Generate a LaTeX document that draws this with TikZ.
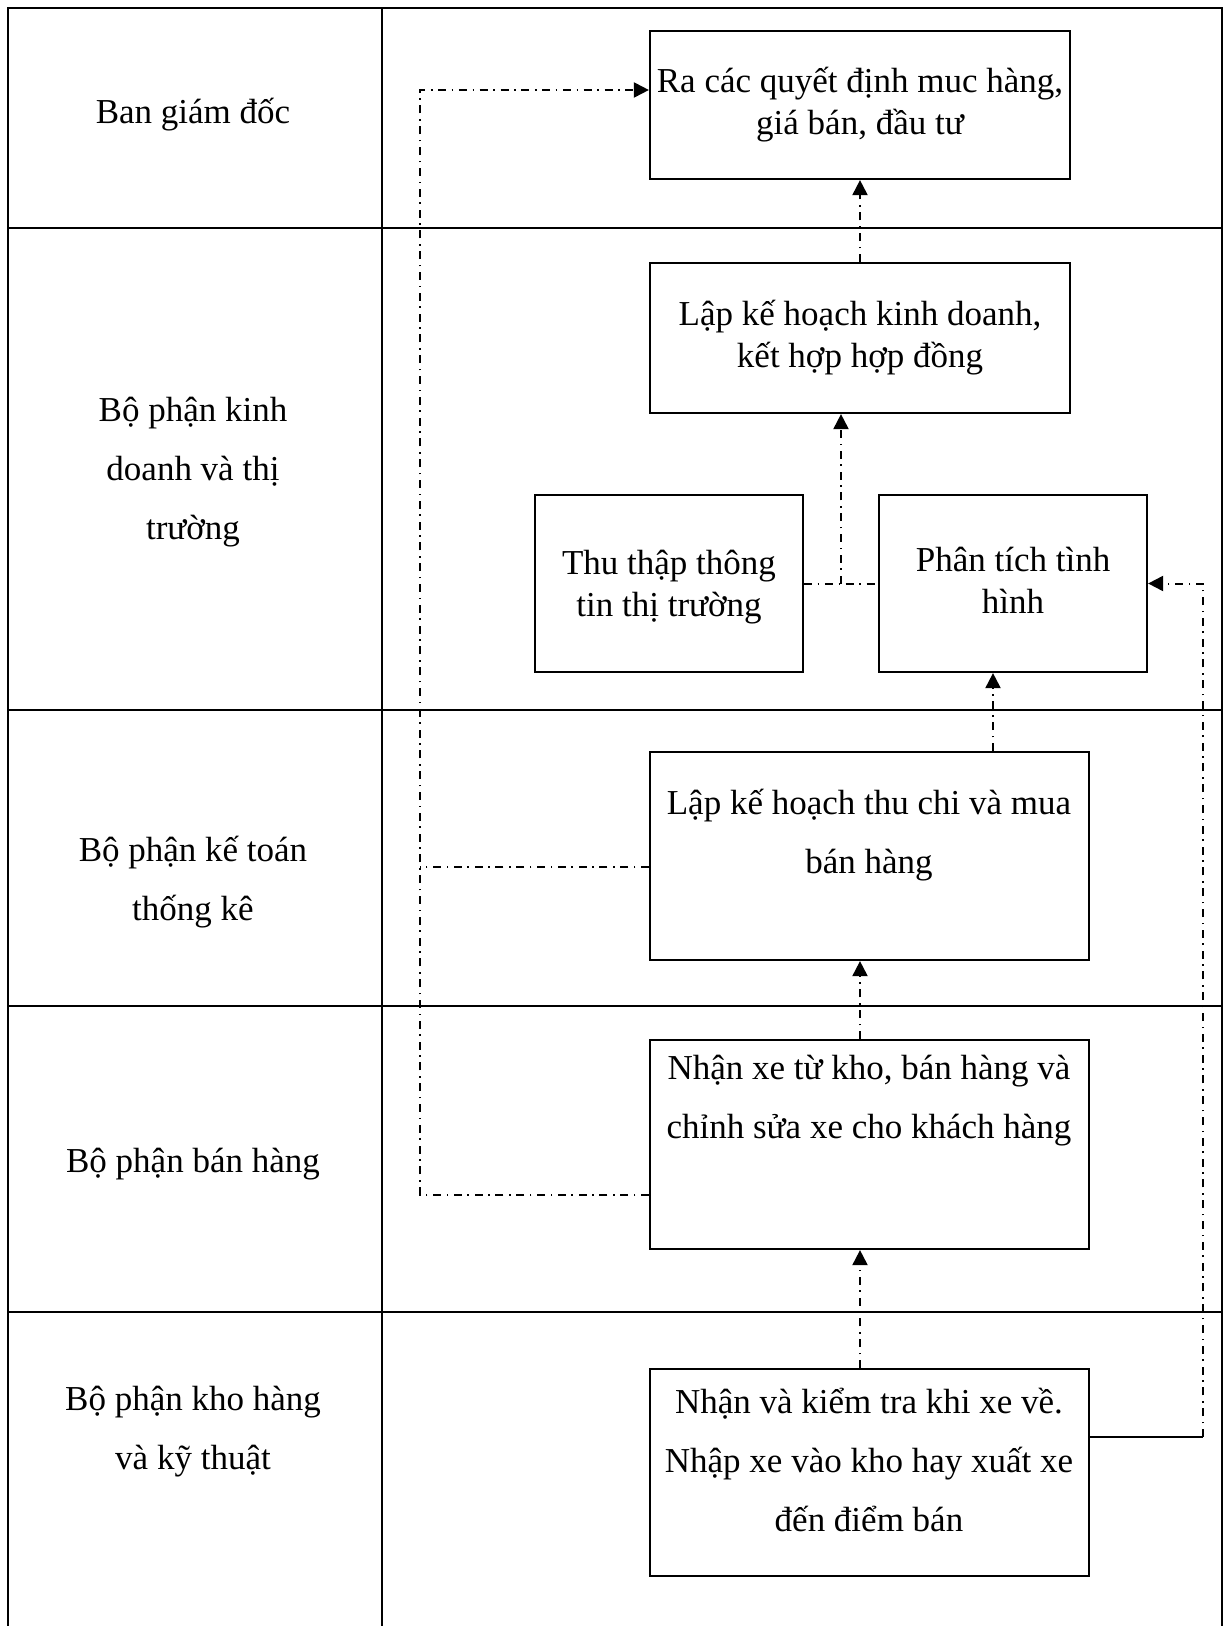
\documentclass[tikz,border=0pt]{standalone}
\usepackage{fontspec}
\setmainfont{Liberation Serif}
\usetikzlibrary{arrows.meta,calc}
\begin{document}
\begin{tikzpicture}[x=0.5pt,y=-0.5pt,
  rule/.style={line width=1pt},
  box/.style={draw,line width=1.1pt,rectangle,inner sep=0pt},
  lbl/.style={align=center,inner sep=0pt,font=\fontsize{17.5}{29.5}\selectfont},
  tight/.style={align=center,inner sep=0pt,font=\fontsize{17.5}{21}\selectfont},
  flow/.style={line width=1pt,dash pattern=on 4pt off 2.8pt on 0.8pt off 2.8pt},
  tip/.style={-{Triangle[length=7.5pt,width=7.5pt]}}]
\useasboundingbox (0,0) rectangle (1230,1626);

% lane grid
\draw[rule] (8,1626) -- (8,8) -- (1222,8) -- (1222,1626);
\draw[rule] (382,8) -- (382,1626);
\foreach \yy in {228,710,1006,1312} \draw[rule] (8,\yy) -- (1222,\yy);

% lane titles
\node[lbl] (r1) at (193,115) {Ban giám đốc};
\node[lbl] (r2) at (193,472) {Bộ phận kinh\\doanh và thị\\trường};
\node[lbl] (r3) at (193,882) {Bộ phận kế toán\\thống kê};
\node[lbl] (r4) at (193,1164) {Bộ phận bán hàng};
\node[lbl] (r5) at (193,1432) {Bộ phận kho hàng\\và kỹ thuật};

% process boxes
\node[box,minimum width=210pt,minimum height=74pt] (b1) at (860,105) {};
\node[box,minimum width=210pt,minimum height=75pt] (b2) at (860,338) {};
\node[box,minimum width=134pt,minimum height=88.5pt] (b3) at (669,583.5) {};
\node[box,minimum width=134pt,minimum height=88.5pt] (b4) at (1013,583.5) {};
\node[box,minimum width=219.5pt,minimum height=104pt] (b5) at (869.5,856) {};
\node[box,minimum width=219.5pt,minimum height=104.5pt] (b6) at (869.5,1144.5) {};
\node[box,minimum width=219.5pt,minimum height=103.5pt] (b7) at (869.5,1472.5) {};

% box texts
\node[tight] (t1) at (860,105) {Ra các quyết định muc hàng,\\giá bán, đầu tư};
\node[tight] (t2) at (860,338) {Lập kế hoạch kinh doanh,\\kết hợp hợp đồng};
\node[tight] (t3) at (669,587) {Thu thập thông\\tin thị trường};
\node[tight] (t4) at (1013,580) {Phân tích tình\\hình};
\node[lbl] (t5) at (869,835) {Lập kế hoạch thu chi và mua\\bán hàng};
\node[lbl] (t6) at (869,1101) {Nhận xe từ kho, bán hàng và\\chỉnh sửa xe cho khách hàng};
\node[lbl] (t7) at (869,1460) {Nhận và kiểm tra khi xe về.\\Nhập xe vào kho hay xuất xe\\đến điểm bán};

% junction points
\coordinate (j34) at ($(b3.east)!0.5!(b4.west)$);
\coordinate (lx) at (420,90);
\coordinate (p5) at (b5.west |- 0,867);
\coordinate (p6) at (b6.west |- 0,1195);
\coordinate (p1) at (b1.west |- lx);
\coordinate (p7) at (b7.east |- 0,1437);
\coordinate (rx) at (1203,1437);
\coordinate (q5) at (993,0);

% upward flow
\draw[flow,tip] (b7.north -| b1) -- (b6.south -| b1);
\draw[flow,tip] (b6.north -| b1) -- (b5.south -| b1);
\draw[flow,tip] (b5.north -| q5) -- (b4.south -| q5);
\draw[flow] (b3.east) -- (b4.west);
\draw[flow,tip] (j34) -- (j34 |- b2.south);
\draw[flow,tip] (b2.north) -- (b1.south);

% feedback to the board
\draw[flow,tip] (p6) -| (lx) -- (p1);
\draw[flow] (p5) -- (p5 -| lx);

% stock report loop
\draw[rule] (p7) -- (rx);
\draw[flow,tip] (rx) |- (b4.east);
\end{tikzpicture}
\end{document}
